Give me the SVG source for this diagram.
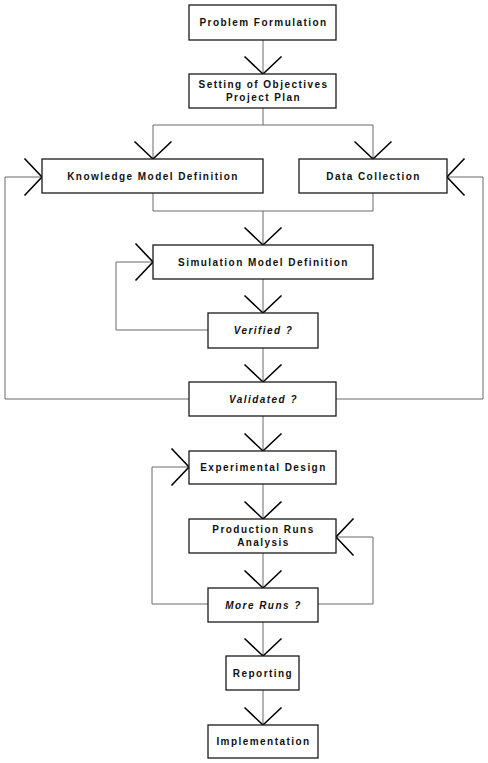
<svg xmlns="http://www.w3.org/2000/svg" width="488" height="763" viewBox="0 0 488 763">
<style>
.box{fill:#fff;stroke:#1a1a1a;stroke-width:1.3}
.t{font-family:"Liberation Sans",Arial,sans-serif;font-size:10px;font-weight:bold;letter-spacing:1.45px;text-anchor:middle;fill:#111}
.i{font-style:italic}
.c{fill:none;stroke:#6a6a6a;stroke-width:1;marker-end:url(#ah)}
.n{fill:none;stroke:#6a6a6a;stroke-width:1}
</style>
<defs>
<marker id="ah" markerUnits="userSpaceOnUse" markerWidth="40" markerHeight="40" refX="0" refY="0" orient="auto" viewBox="-20 -20 40 40" overflow="visible">
<path d="M-17.5,-18.5 L0,0 L-17.5,18.5" fill="none" stroke="#000" stroke-width="1.6"/>
</marker>
</defs>
<rect width="488" height="763" fill="#fff"/>
<g id="connectors">
<path class="c" d="M263,40 V74"/>
<path class="c" d="M263,108 V125 H153 V159"/>
<path class="c" d="M263,125 H373 V159"/>
<path class="n" d="M373,193 V211 H263"/>
<path class="c" d="M153,193 V211 H263 V245"/>
<path class="c" d="M263,279 V313"/>
<path class="c" d="M208,330 H116 V262 H153"/>
<path class="c" d="M263,348 V382"/>
<path class="c" d="M189,399 H5 V177 H42"/>
<path class="c" d="M336,399 H483 V177 H447"/>
<path class="c" d="M263,416 V451"/>
<path class="c" d="M263,484 V519"/>
<path class="c" d="M263,553 V588"/>
<path class="c" d="M208,604 H152 V467 H189"/>
<path class="c" d="M318,604 H373 V537 H336"/>
<path class="c" d="M263,622 V656"/>
<path class="c" d="M263,690 V725"/>
</g>
<g id="problem"><rect class="box" x="189" y="5" width="147" height="35"/><text class="t" x="263.5" y="26">Problem Formulation</text></g>
<g id="objectives"><rect class="box" x="189" y="74" width="147" height="34"/><text class="t" x="263.5" y="88">Setting of Objectives</text><text class="t" x="263.5" y="100.5">Project Plan</text></g>
<g id="knowledge"><rect class="box" x="42" y="159" width="221" height="34"/><text class="t" x="153" y="180">Knowledge Model Definition</text></g>
<g id="data"><rect class="box" x="299" y="159" width="148" height="34"/><text class="t" x="373.5" y="180">Data Collection</text></g>
<g id="simulation"><rect class="box" x="153" y="245" width="220" height="34"/><text class="t" x="263.5" y="265.5">Simulation Model Definition</text></g>
<g id="verified"><rect class="box" x="208" y="313" width="110" height="35"/><text class="t i" x="263.5" y="334">Verified ?</text></g>
<g id="validated"><rect class="box" x="189" y="382" width="147" height="34"/><text class="t i" x="263.5" y="403">Validated ?</text></g>
<g id="experimental"><rect class="box" x="189" y="451" width="147" height="33"/><text class="t" x="263.5" y="471">Experimental Design</text></g>
<g id="production"><rect class="box" x="189" y="519" width="147" height="34"/><text class="t" x="263.5" y="533">Production Runs</text><text class="t" x="263.5" y="545.5">Analysis</text></g>
<g id="moreruns"><rect class="box" x="208" y="588" width="110" height="34"/><text class="t i" x="263.5" y="608.5">More Runs ?</text></g>
<g id="reporting"><rect class="box" x="226" y="656" width="73" height="34"/><text class="t" x="263" y="676.5">Reporting</text></g>
<g id="implementation"><rect class="box" x="208" y="725" width="110" height="33"/><text class="t" x="263.5" y="745">Implementation</text></g>
</svg>
